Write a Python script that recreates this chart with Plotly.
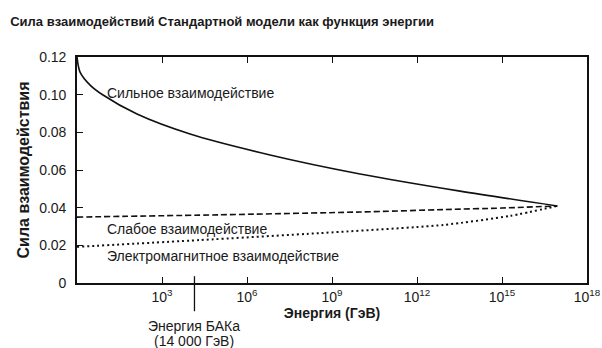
import math
import plotly.graph_objects as go

# Energy in GeV and coupling strengths
strong_E = [1, 1.28, 2.9, 8.3, 131, 9.8e3, 6.5e6, 9.8e9, 3.3e13, 9e16]
strong_a = [0.1200, 0.1120, 0.1051, 0.0998, 0.0897, 0.0791, 0.0680, 0.0579, 0.0488, 0.0409]

weak_E = [1, 1e5, 1e10, 1e13, 1e15, 9e16]
weak_a = [0.0350, 0.0362, 0.0377, 0.0390, 0.0398, 0.0409]

em_E = [1, 2.2e4, 3.8e8, 8.3e12, 1.9e15, 9e16]
em_a = [0.0192, 0.0228, 0.0265, 0.0308, 0.0356, 0.0409]

x_tickvals = [1e3, 1e6, 1e9, 1e12, 1e15, 1e18]
x_ticktext = ["10<sup>3</sup>", "10<sup>6</sup>", "10<sup>9</sup>",
              "10<sup>12</sup>", "10<sup>15</sup>", "10<sup>18</sup>"]
y_tickvals = [0, 0.02, 0.04, 0.06, 0.08, 0.10, 0.12]
y_ticktext = ["0", "0.02", "0.04", "0.06", "0.08", "0.10", "0.12"]

lhc_E = 14000
lhc_lines = ["Энергия БАКа", "(14 000 ГэВ)"]
labels = [
    ("Сильное взаимодействие", 10, 0.101),
    ("Слабое взаимодействие", 10, 0.0287),
    ("Электромагнитное взаимодействие", 10, 0.0143),
]

FONT = "Liberation Sans, Arial, Helvetica, sans-serif"
TXT = "#1a1a1a"

fig = go.Figure()
fig.add_trace(go.Scatter(x=strong_E, y=strong_a, mode="lines",
                         line=dict(color="#111", width=1.6, shape="spline", smoothing=0.8)))
fig.add_trace(go.Scatter(x=weak_E, y=weak_a, mode="lines",
                         line=dict(color="#111", width=1.6, dash="6px,3px", shape="spline", smoothing=0.6)))
fig.add_trace(go.Scatter(x=em_E, y=em_a, mode="lines",
                         line=dict(color="#111", width=2, dash="2px,3px", shape="spline", smoothing=0.6)))

for text, x, y in labels:
    fig.add_annotation(x=math.log10(x), y=y, xref="x", yref="y", text=text, showarrow=False,
                       xanchor="left", yanchor="middle",
                       font=dict(family=FONT, size=14, color=TXT))

# LHC marker line
fig.add_shape(type="line", xref="x", yref="paper", x0=lhc_E, x1=lhc_E, y0=0.03, y1=-0.125,
              line=dict(color="#111", width=1.3))
for i, line_text in enumerate(lhc_lines):
    fig.add_annotation(x=math.log10(lhc_E), y=-0.19 - 0.067 * i, xref="x", yref="paper",
                       text=line_text, showarrow=False,
                       xanchor="center", yanchor="middle",
                       font=dict(family=FONT, size=14, color=TXT))

fig.update_layout(
    width=602, height=348,
    margin=dict(l=77, r=15, t=57, b=65),
    paper_bgcolor="white", plot_bgcolor="white",
    showlegend=False,
    font=dict(family=FONT, size=13, color=TXT),
    title=dict(text="<b>Сила взаимодействий Стандартной модели как функция энергии</b>",
               x=0.017, xanchor="left", y=0.937, yanchor="middle",
               font=dict(family=FONT, size=13, color=TXT)),
)
fig.update_xaxes(type="log", range=[0, 18], tickvals=x_tickvals, ticktext=x_ticktext,
                 ticks="inside", ticklen=6, tickwidth=1.3, tickcolor="#111",
                 showline=True, linecolor="#111", linewidth=1.6, mirror="ticks",
                 showgrid=False, zeroline=False, automargin=False,
                 tickfont=dict(family=FONT, size=14, color=TXT),
                 title=dict(text="<b>Энергия (ГэВ)</b>", standoff=4,
                            font=dict(family=FONT, size=14, color=TXT)))
fig.update_yaxes(range=[0, 0.12], tickvals=y_tickvals, ticktext=y_ticktext,
                 ticks="inside", ticklen=6, tickwidth=1.3, tickcolor="#111",
                 showline=True, linecolor="#111", linewidth=1.6, mirror=True,
                 showgrid=False, zeroline=False, ticklabelstandoff=6, automargin=False,
                 tickfont=dict(family=FONT, size=14, color=TXT),
                 title=dict(text="<b>Сила взаимодействия</b>", standoff=6,
                            font=dict(family=FONT, size=16, color=TXT)))

fig.write_html("out.html")
